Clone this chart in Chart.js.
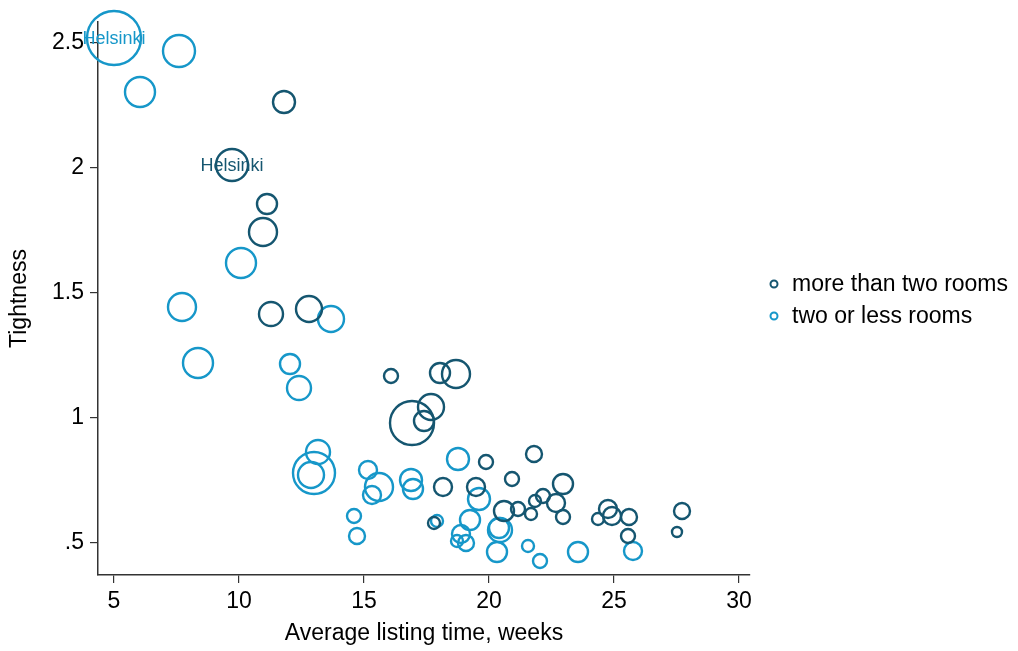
<!DOCTYPE html>
<html>
<head>
<meta charset="utf-8">
<script src="https://cdn.jsdelivr.net/npm/chart.js@4"></script>
<style>
  body { margin: 0; background: #fff; }
  #wrap { width: 1018px; height: 651px; }
</style>
</head>
<body>
<div id="wrap"><canvas id="bubble-chart"></canvas></div>
<script>
// more than two rooms
const bigX = [11.80, 9.72, 11.12, 10.96, 11.28, 12.80, 16.08, 18.04, 18.68, 17.68, 16.92, 17.40, 19.88, 21.80, 18.16, 19.48, 20.92, 22.96, 20.60, 21.16, 21.68, 21.84, 22.16, 22.68, 22.96, 24.76, 24.92, 24.36, 25.60, 25.56, 27.72, 27.52, 17.80];
const bigY = [2.262, 2.01, 1.854, 1.742, 1.414, 1.434, 1.166, 1.178, 1.174, 1.042, 0.978, 0.986, 0.822, 0.854, 0.722, 0.722, 0.754, 0.734, 0.626, 0.634, 0.614, 0.666, 0.686, 0.658, 0.602, 0.634, 0.606, 0.594, 0.602, 0.526, 0.626, 0.542, 0.578];
const bigSize = [11, 16, 10, 14, 12, 13, 7, 10, 14, 13, 22, 10, 7, 8, 9, 9, 7, 10, 10, 7, 6, 6, 7, 9, 7, 9, 9, 6, 8, 7, 8, 5, 6];
const bigNames = ['', 'Helsinki'];

// two or less rooms
const smallX = [5.0, 7.60, 6.04, 10.08, 7.72, 8.36, 13.68, 12.04, 12.40, 13.16, 13.00, 12.88, 15.16, 15.60, 15.32, 16.88, 16.96, 14.60, 14.72, 18.76, 19.60, 19.24, 18.88, 19.08, 18.72, 20.44, 20.40, 20.32, 21.56, 22.04, 23.56, 25.76, 17.92];
const smallY = [2.518, 2.466, 2.302, 1.618, 1.442, 1.218, 1.394, 1.214, 1.118, 0.862, 0.778, 0.77, 0.79, 0.722, 0.69, 0.75, 0.714, 0.606, 0.526, 0.834, 0.674, 0.59, 0.534, 0.498, 0.506, 0.55, 0.558, 0.462, 0.486, 0.426, 0.462, 0.466, 0.586];
const smallSize = [27, 16, 15, 15, 14, 15, 13, 10, 12, 12, 21, 13, 9, 14, 9, 11, 10, 7, 8, 11, 11, 10, 9, 8, 6, 12, 10, 10, 6, 7, 10, 9, 6];
const smallNames = ['Helsinki'];

const xTicks = [5, 10, 15, 20, 25, 30];
const yTicks = [0.5, 1, 1.5, 2, 2.5];
const yTickLabels = ['.5', '1', '1.5', '2', '2.5'];

const darkColor = '#155670';
const lightColor = '#1697c9';
const fontFamily = '"Liberation Sans", Arial, sans-serif';

function points(xs, ys, rs) {
    return xs.map((x, i) => ({ x: x, y: ys[i], r: rs[i] }));
}

// Helsinki labels + the legend on the right
const extras = {
    id: 'extras',
    afterDatasetsDraw(chart) {
        const ctx = chart.ctx;
        ctx.save();
        ctx.font = '18px ' + fontFamily;
        ctx.textAlign = 'center';
        ctx.textBaseline = 'middle';
        [bigNames, smallNames].forEach((names, d) => {
            const meta = chart.getDatasetMeta(d);
            ctx.fillStyle = chart.data.datasets[d].borderColor;
            names.forEach((name, i) => {
                if (!name) return;
                const el = meta.data[i];
                ctx.fillText(name, el.x, el.y + 1);
            });
        });

        ctx.font = '23px ' + fontFamily;
        ctx.textAlign = 'left';
        chart.data.datasets.forEach((ds, i) => {
            const y = 284 + i * 32;
            ctx.beginPath();
            ctx.arc(774, y, 3.5, 0, Math.PI * 2);
            ctx.lineWidth = 2;
            ctx.strokeStyle = ds.borderColor;
            ctx.stroke();
            ctx.fillStyle = '#000';
            ctx.fillText(ds.label, 792, y + 1);
        });
        ctx.restore();
    }
};

new Chart(document.querySelector('#bubble-chart').getContext('2d'), {
    type: 'bubble',
    data: {
        datasets: [{
            label: 'more than two rooms',
            data: points(bigX, bigY, bigSize),
            borderColor: darkColor,
            backgroundColor: 'rgba(0,0,0,0)',
            borderWidth: 2.4,
            clip: false
        }, {
            label: 'two or less rooms',
            data: points(smallX, smallY, smallSize),
            borderColor: lightColor,
            backgroundColor: 'rgba(0,0,0,0)',
            borderWidth: 2.4,
            clip: false
        }]
    },
    options: {
        responsive: true,
        maintainAspectRatio: false,
        animation: false,
        layout: { autoPadding: false, padding: { left: 0, right: 268, top: 22, bottom: 0 } },
        plugins: {
            legend: { display: false },
            tooltip: { enabled: false }
        },
        scales: {
            x: {
                type: 'linear',
                min: 4.36,
                max: 30.44,
                afterBuildTicks: scale => { scale.ticks = xTicks.map(v => ({ value: v })); },
                afterFit: scale => { scale.height = 76; scale.paddingLeft = 0; scale.paddingRight = 0; },
                grid: { display: true, drawOnChartArea: false, drawTicks: true, tickLength: 8, color: '#333', lineWidth: 1.2 },
                border: { display: true, color: '#333', width: 1.5 },
                ticks: { color: '#000', padding: 5, maxRotation: 0, font: { family: fontFamily, size: 23 } },
                title: { display: true, text: 'Average listing time, weeks', color: '#000', font: { family: fontFamily, size: 23 }, padding: { top: 0, bottom: 4 } }
            },
            y: {
                type: 'linear',
                min: 0.37,
                max: 2.582,
                afterBuildTicks: scale => { scale.ticks = yTicks.map(v => ({ value: v })); },
                afterFit: scale => { scale.width = 98; scale.paddingTop = 0; scale.paddingBottom = 0; },
                grid: { display: true, drawOnChartArea: false, drawTicks: true, tickLength: 8, color: '#333', lineWidth: 1.2 },
                border: { display: true, color: '#333', width: 1.5 },
                ticks: {
                    color: '#000', padding: 6,
                    font: { family: fontFamily, size: 23 },
                    callback: value => yTickLabels[yTicks.indexOf(value)]
                },
                title: { display: true, text: 'Tightness', color: '#000', font: { family: fontFamily, size: 23 }, padding: { top: 6, bottom: 0 } }
            }
        }
    },
    plugins: [extras]
});
</script>
</body>
</html>
